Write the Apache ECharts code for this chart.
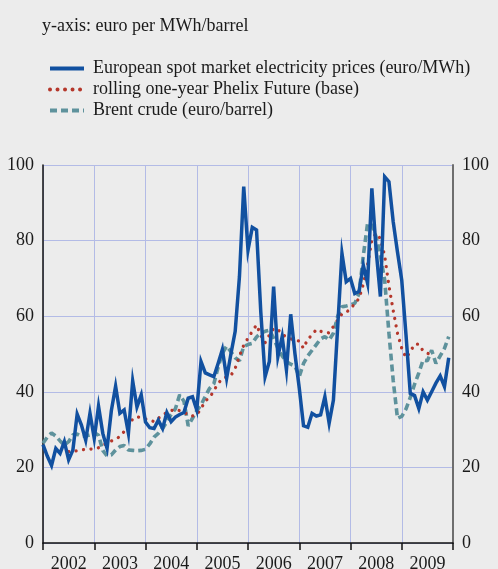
<!DOCTYPE html>
<html>
<head>
<meta charset="utf-8">
<script src="https://cdn.jsdelivr.net/npm/echarts@6/dist/echarts.min.js"></script>
<style>
  html, body { margin: 0; padding: 0; background: #ececec; }
  #chart { width: 498px; height: 569px; }
</style>
</head>
<body>
<div id="chart"></div>
<script>
// Year labels along the bottom axis (one block of 12 months each)
const years = ['2002', '2003', '2004', '2005', '2006', '2007', '2008', '2009'];
const yTicks = [0, 20, 40, 60, 80, 100];

// Monthly values, January 2002 – December 2009
const electricity = [
  26, 23, 20.5, 25, 23.7, 26.8, 22, 24.6, 34.1, 31.2, 27.2, 34.3,      // 2002
  27.7, 36.2, 29, 25, 35, 41.5, 34.3, 35.2, 29, 42.9, 36, 39.2,        // 2003
  32, 30.5, 30.3, 32.5, 30.3, 34.5, 32.1, 33.3, 34, 34.5, 38.3, 38.7,  // 2004
  35.2, 48, 45, 44.5, 44, 47.5, 51.2, 43.6, 50, 56, 70.5, 94.3,        // 2005
  77.5, 83.5, 82.8, 61, 44, 48, 67.8, 49.3, 54.6, 45.8, 60.5, 50,      // 2006
  41, 31, 30.6, 34.3, 33.6, 33.9, 38.7, 31.7, 37.8, 57.2, 76.6, 69.1,  // 2007
  70, 66, 66.5, 73.5, 68.7, 93.8, 77.5, 65.2, 96.9, 95.6, 85, 77,      // 2008
  69.5, 55, 39.6, 39, 35.6, 40, 37.8, 40, 42.3, 44.2, 41.4, 49         // 2009
];

const phelix = [
  null, null, null, null, null, null, 24.2, 24.3, 24.4, 24.6, 24.8, 24.8,  // 2002
  25, 25.2, 25.8, 26.5, 27, 27.4, 28.2, 29.5, 31, 32.8, 33.4, 33.1,        // 2003
  32.8, 32.5, 32.1, 33, 33.9, 34.5, 35, 35.4, 35, 34.7, 33.8, 33.6,        // 2004
  33.9, 35.5, 37.6, 38.4, 40.3, 42.2, 43.5, 43.9, 44.3, 46.2, 49.5, 52.3,  // 2005
  54.2, 56, 57.7, 55, 53, 55, 56.8, 56.5, 55.2, 54.5, 54, 53.7,            // 2006
  53.4, 51.5, 54, 55, 56.5, 56, 55.7, 55.6, 57.3, 59, 60.6, 61,            // 2007
  62, 63.3, 64.7, 68.5, 73.5, 80.2, 81.9, 80.5, 76, 68, 61.5, 55.5,        // 2008
  51.5, 49, 50.6, 52.6, 52.6, 50.8, 50.2, 49.7, null, null, null, null     // 2009
];

const brent = [
  26.4, 28, 29.1, 28.3, 27, 25.9, 26.8, 28.6, 28.8, 28.2, 28.3, 28.6,  // 2002
  29.2, 28.5, 24.5, 23, 23.3, 24.6, 25.5, 25.8, 24.6, 24.5, 24.4, 24.5, // 2003
  24.8, 26.2, 28, 29, 30.3, 32, 34, 35.5, 39.2, 37.5, 31, 33,          // 2004
  35, 36.5, 38.8, 40.9, 42.1, 46.5, 50.2, 52.1, 50.6, 49, 48.2, 52,    // 2005
  52.5, 52.8, 54.5, 55.5, 56, 56.3, 54.2, 51.5, 49.5, 48, 47.3, 46.8,  // 2006
  44, 47.5, 49.5, 51, 52.5, 54, 54.6, 53.7, 55.5, 60, 62.5, 62.7,      // 2007
  63, 63.4, 66, 76, 84.6, 84.1, 81, 76, 69.6, 55.5, 43, 33,            // 2008
  33.5, 35.5, 38.5, 42, 45, 48.4, 48.2, 51, 47.5, 49.5, 51.5, 54.6     // 2009
];

const names = {
  electricity: 'European spot market electricity prices (euro/MWh)',
  phelix: 'rolling one-year Phelix Future (base)',
  brent: 'Brent crude (euro/barrel)'
};

const toPoints = arr => arr.map((v, i) => [i, v]);

const SERIF = '"Liberation Serif", "DejaVu Serif", serif';
const GRID = '#b3bbe6';
const BLUE = '#1150a0';
const RED = '#b5372b';
const TEAL = '#5e929c';
const TEXT = '#1a1a1a';

const chart = echarts.init(document.getElementById('chart'), null, { renderer: 'canvas' });

chart.setOption({
  backgroundColor: '#ececec',
  animation: false,
  title: {
    text: 'y-axis: euro per MWh/barrel',
    left: 37,
    top: 12,
    textStyle: { fontFamily: SERIF, fontSize: 18, fontWeight: 'normal', color: TEXT }
  },
  legend: {
    orient: 'vertical',
    left: 43,
    top: 53,
    itemWidth: 34,
    itemHeight: 14,
    itemGap: 0,
    // line-only keys: the marker dot is hidden
    itemStyle: { opacity: 0 },
    lineStyle: { width: 4 },
    data: [names.electricity, names.phelix, names.brent],
    textStyle: { fontFamily: SERIF, fontSize: 18, lineHeight: 21, color: TEXT, padding: [0, 0, 0, 4] }
  },
  grid: {
    left: 43, right: 45, top: 165, bottom: 26,
    containLabel: false,
    outerBoundsMode: 'none'
  },
  xAxis: [
    {
      type: 'value',
      min: 0,
      max: years.length * 12,
      interval: 12,
      axisLine: { show: true, onZero: false, lineStyle: { color: '#111', width: 1.5 } },
      axisTick: { show: true, inside: false, length: 7, lineStyle: { color: '#111', width: 1.5 } },
      axisLabel: { show: false },
      splitLine: { show: true, lineStyle: { color: GRID, width: 1 } }
    },
    {
      type: 'category',
      position: 'bottom',
      data: years,
      boundaryGap: true,
      axisLine: { show: false },
      axisTick: { show: false },
      splitLine: { show: false },
      axisLabel: { fontFamily: SERIF, fontSize: 18, color: TEXT, margin: 12 }
    }
  ],
  yAxis: [
    {
      type: 'value',
      min: yTicks[0],
      max: yTicks[yTicks.length - 1],
      interval: 20,
      position: 'left',
      axisLine: { show: true, lineStyle: { color: '#111', width: 1.5 } },
      axisTick: { show: false },
      axisLabel: { fontFamily: SERIF, fontSize: 18, color: TEXT, margin: 9 },
      splitLine: { show: true, lineStyle: { color: GRID, width: 1 } }
    },
    {
      type: 'value',
      min: yTicks[0],
      max: yTicks[yTicks.length - 1],
      interval: 20,
      position: 'right',
      axisLine: { show: true, lineStyle: { color: '#6e6e6e', width: 2 } },
      axisTick: { show: false },
      axisLabel: { fontFamily: SERIF, fontSize: 18, color: TEXT, margin: 9 },
      splitLine: { show: false }
    }
  ],
  series: [
    {
      name: names.brent,
      type: 'line',
      xAxisIndex: 0,
      yAxisIndex: 0,
      data: toPoints(brent),
      symbol: 'none',
      z: 2,
      lineStyle: { color: TEAL, width: 3.6, type: [7, 4] },
      itemStyle: { color: TEAL }
    },
    {
      name: names.phelix,
      type: 'line',
      xAxisIndex: 0,
      yAxisIndex: 0,
      data: toPoints(phelix),
      symbol: 'none',
      z: 3,
      lineStyle: { color: RED, width: 3.3, type: [0.01, 7.5], cap: 'round' },
      itemStyle: { color: RED }
    },
    {
      name: names.electricity,
      type: 'line',
      xAxisIndex: 0,
      yAxisIndex: 0,
      data: toPoints(electricity),
      symbol: 'none',
      z: 4,
      lineStyle: { color: BLUE, width: 3.5, join: 'miter' },
      itemStyle: { color: BLUE }
    }
  ]
});
</script>
</body>
</html>
